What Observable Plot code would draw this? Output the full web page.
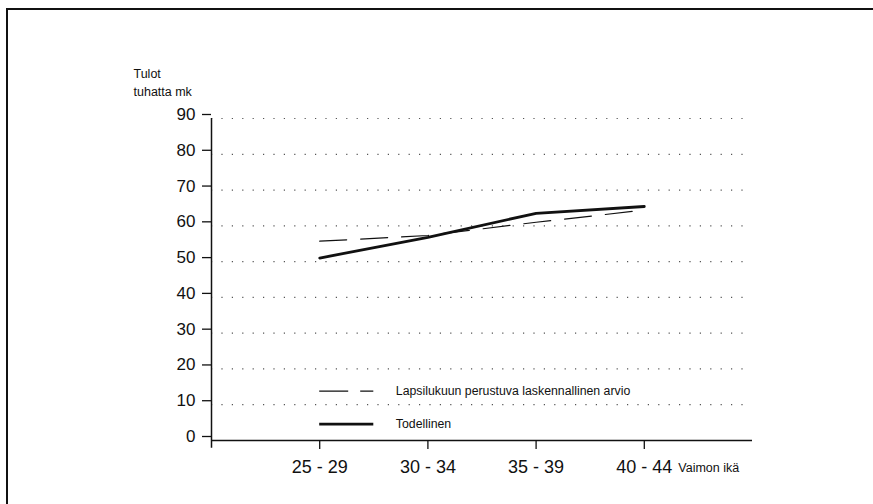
<!DOCTYPE html>
<html>
<head>
<meta charset="utf-8">
<script src="https://cdn.jsdelivr.net/npm/d3@7"></script>
<script src="https://cdn.jsdelivr.net/npm/@observablehq/plot@0.6"></script>
<style>
  html, body { margin: 0; padding: 0; background: #fff; overflow: hidden; width: 873px; height: 504px; }
  #wrap { position: relative; width: 873px; height: 504px; overflow: hidden; }
  #topline { position: absolute; left: 6px; top: 8px; width: 867px; height: 2px; background: #111; }
  #leftline { position: absolute; left: 6px; top: 8px; width: 2px; height: 496px; background: #111; }
  #chart { position: absolute; left: 0; top: 0; }
</style>
</head>
<body>
<div id="wrap"><div id="topline"></div><div id="leftline"></div><div id="chart"></div></div>
<script>
// Categories (wife's age groups) placed at positions 1..4 on the x axis
const categories = ["25 - 29", "30 - 34", "35 - 39", "40 - 44"];
// Income, thousands of marks
const todellinen = [51.0, 56.8, 63.5, 65.4];          // actual (solid)
const laskennallinen = [55.7, 57.3, 61.0, 64.4];      // computed estimate (dashed)
const yTicks = [0, 10, 20, 30, 40, 50, 60, 70, 80, 90];
const yTitle = ["Tulot", "tuhatta mk"];
const xTitle = "Vaimon ikä";
const legendLabels = ["Lapsilukuun perustuva laskennallinen arvio", "Todellinen"];
// legend rows, in data units (x start/end, y value)
const legendX = [1.0, 1.5];
const legendY = [13.8, 4.6];

const actual = categories.map((c, i) => ({x: i + 1, y: todellinen[i]}));
const estimate = categories.map((c, i) => ({x: i + 1, y: laskennallinen[i]}));

const font = "'Liberation Sans', Arial, Helvetica, sans-serif";

const plot = Plot.plot({
  width: 873,
  height: 504,
  marginLeft: 211,
  marginRight: 121,
  marginTop: 118,
  marginBottom: 64,
  style: {fontFamily: font, color: "#111", background: "transparent"},
  x: {domain: [0, 5], axis: null},
  y: {domain: [0, 90], axis: null},
  marks: [
    // dotted gridlines
    Plot.ruleY(yTicks.filter(d => d > 0), {x1: 0, x2: 4.96, stroke: "#555", strokeWidth: 1.2, strokeDasharray: "1.2,9.2"}),
    // axes lines
    Plot.ruleX([0], {y1: -2.2, y2: 90, stroke: "#111", strokeWidth: 1.5}),
    Plot.ruleY([0], {x1: 0, x2: 5, stroke: "#111", strokeWidth: 1.5}),
    Plot.axisY(yTicks, {tickSize: 9, tickPadding: 7, fontSize: 17, dy: -4, stroke: "#111", strokeWidth: 1.3, label: null}),
    Plot.axisX([1, 2, 3, 4], {tickSize: 9, tickPadding: 11, fontSize: 18, tickFormat: d => categories[d - 1], stroke: "#111", strokeWidth: 1.3, label: null}),
    // series
    Plot.line(estimate, {x: "x", y: "y", stroke: "#111", strokeWidth: 1.2, strokeDasharray: "27,14"}),
    Plot.line(actual, {x: "x", y: "y", stroke: "#111", strokeWidth: 2.8}),
    // legend
    Plot.ruleY([legendY[0]], {x1: legendX[0], x2: legendX[1], stroke: "#111", strokeWidth: 1.2, strokeDasharray: "29,12"}),
    Plot.ruleY([legendY[1]], {x1: legendX[0], x2: legendX[1], stroke: "#111", strokeWidth: 2.8}),
    Plot.text(legendLabels, {x: legendX[1], y: (d, i) => legendY[i], text: d => d, dx: 22, textAnchor: "start", fontSize: 12.3, fill: "#111"}),
    // titles
    Plot.text([xTitle], {x: 4, y: 0, text: d => d, dx: 34, dy: 27, textAnchor: "start", fontSize: 12.5, fill: "#111"}),
    Plot.text([yTitle[0]], {x: 0, y: 90, text: d => d, dx: -78, dy: -45, textAnchor: "start", fontSize: 12.5, fill: "#111"}),
    Plot.text([yTitle[1]], {x: 0, y: 90, text: d => d, dx: -78, dy: -27, textAnchor: "start", fontSize: 12.5, fill: "#111"})
  ]
});

document.getElementById("chart").appendChild(plot);
</script>
</body>
</html>
